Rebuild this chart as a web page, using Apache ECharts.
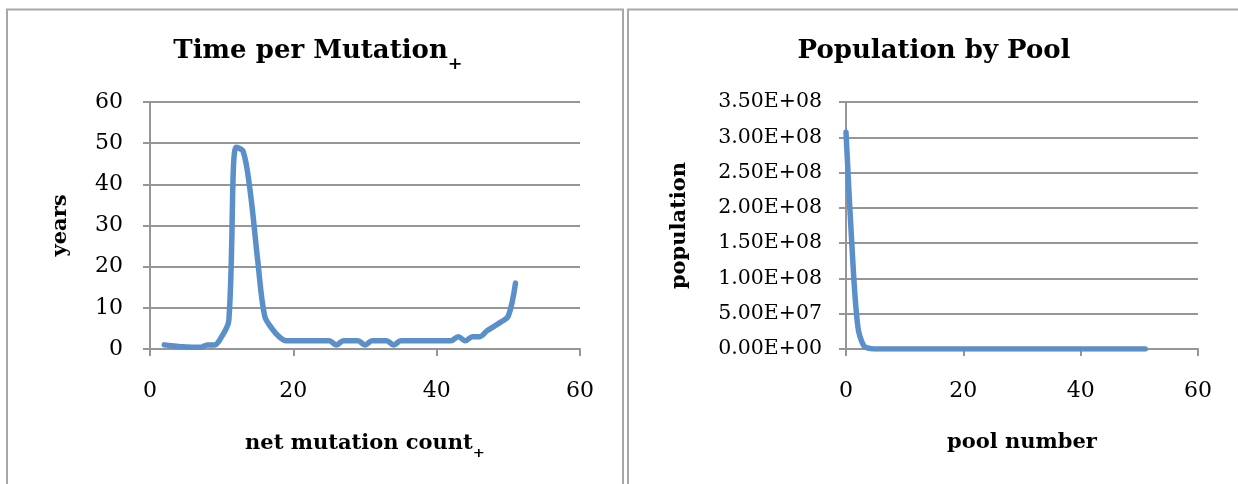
<!DOCTYPE html>
<html>
<head>
<meta charset="utf-8">
<title>Time per Mutation / Population by Pool</title>
<script src="https://cdn.jsdelivr.net/npm/echarts@6/dist/echarts.min.js"></script>
<style>
  html, body { margin: 0; padding: 0; background: #ffffff; }
  #chart { width: 1238px; height: 484px; }
</style>
</head>
<body>
<div id="chart"></div>
<script>
// Left panel: years per mutation against net mutation count
const mutationCounts = [2, 3, 4, 5, 6, 7, 8, 9, 10, 11, 12, 13, 14, 15, 16, 17, 18, 19, 20, 21,
  22, 23, 24, 25, 26, 27, 28, 29, 30, 31, 32, 33, 34, 35, 36, 37, 38, 39, 40, 41,
  42, 43, 44, 45, 46, 47, 48, 49, 50, 51];
const yearsPerMutation = [1, 0.8, 0.6, 0.5, 0.4, 0.4, 1, 1, 3, 7, 49, 48, 38, 22, 8, 5, 3, 2, 2, 2,
  2, 2, 2, 2, 1, 2, 2, 2, 1, 2, 2, 2, 1, 2, 2, 2, 2, 2, 2, 2,
  2, 3, 2, 3, 3, 4.4, 5.5, 6.6, 8, 16];

// Right panel: population in each pool
const poolNumbers = [0, 1, 2, 3, 4, 5, 6, 7, 8, 9, 10, 11, 12, 13, 14, 15, 16, 17, 18, 19,
  20, 21, 22, 23, 24, 25, 26, 27, 28, 29, 30, 31, 32, 33, 34, 35, 36, 37, 38, 39,
  40, 41, 42, 43, 44, 45, 46, 47, 48, 49, 50, 51];
const populations = [3.07e8, 1.48e8, 3.3e7, 5e6, 8e5, 1e5, 0, 0, 0, 0, 0, 0, 0, 0, 0, 0, 0, 0, 0, 0,
  0, 0, 0, 0, 0, 0, 0, 0, 0, 0, 0, 0, 0, 0, 0, 0, 0, 0, 0, 0,
  0, 0, 0, 0, 0, 0, 0, 0, 0, 0, 0, 0];

// Axis ticks
const leftXTicks = [0, 20, 40, 60];
const leftYTicks = [0, 10, 20, 30, 40, 50, 60];
const rightXTicks = [0, 20, 40, 60];
const rightYTicks = [0, 5e7, 1e8, 1.5e8, 2e8, 2.5e8, 3e8, 3.5e8];

// Texts; the trailing plus is set as a lowered subscript
const titles = ['{m|Time per Mutation}{s|\u208A}', 'Population by Pool'];
const axisNames = {
  leftX: '{m|net mutation count}{s|\u208A}',
  leftY: 'years',
  rightX: 'pool number',
  rightY: 'population'
};

const SERIF = '"DejaVu Serif", "Liberation Serif", serif';
const GRID_GRAY = '#969696';
const LINE_BLUE = '#5b8fca';

function sciLabel(v) {
  const s = v.toExponential(2).toUpperCase();
  return s.replace(/E([+-])(\d)$/, 'E$10$2');
}

function tickLabel(size, margin, formatter) {
  const o = { color: '#000', fontFamily: SERIF, fontSize: size, margin: margin };
  if (formatter) o.formatter = formatter;
  return o;
}

const nameStyle = { color: '#000', fontFamily: SERIF, fontSize: 21, fontWeight: 'bold' };

function valueAxis(ticks, extra) {
  return Object.assign({
    type: 'value',
    min: ticks[0],
    max: ticks[ticks.length - 1],
    interval: ticks[1] - ticks[0],
    axisLine: { show: true, lineStyle: { color: GRID_GRAY, width: 2 } },
    axisTick: { show: true, length: 7, lineStyle: { color: GRID_GRAY, width: 2 } },
    splitLine: { show: false },
    nameTextStyle: nameStyle,
    nameLocation: 'middle'
  }, extra);
}

const chart = echarts.init(document.getElementById('chart'), null, { renderer: 'canvas' });

const option = {
  backgroundColor: '#ffffff',
  animation: false,
  grid: [
    { left: 150, top: 102, width: 430, height: 247 },
    { left: 846, top: 102, width: 352, height: 247 }
  ],
  xAxis: [
    valueAxis(leftXTicks, {
      gridIndex: 0,
      name: axisNames.leftX,
      nameGap: 75,
      nameTextStyle: Object.assign({}, nameStyle, {
        rich: {
          m: { color: '#000', fontFamily: SERIF, fontSize: 21, fontWeight: 'bold' },
          s: { color: '#000', fontFamily: SERIF, fontSize: 23, fontWeight: 'bold', padding: [16, 0, 0, 0] }
        }
      }),
      axisLabel: tickLabel(22, 31)
    }),
    valueAxis(rightXTicks, {
      gridIndex: 1,
      name: axisNames.rightX,
      nameGap: 83,
      axisLabel: tickLabel(22, 31)
    })
  ],
  yAxis: [
    valueAxis(leftYTicks, {
      gridIndex: 0,
      name: axisNames.leftY,
      nameGap: 79,
      splitLine: { show: true, lineStyle: { color: GRID_GRAY, width: 2 } },
      axisLabel: tickLabel(22, 27)
    }),
    valueAxis(rightYTicks, {
      gridIndex: 1,
      name: axisNames.rightY,
      nameGap: 156,
      splitLine: { show: true, lineStyle: { color: GRID_GRAY, width: 2 } },
      axisLabel: tickLabel(20.5, 24, sciLabel)
    })
  ],
  series: [
    {
      type: 'line',
      xAxisIndex: 0,
      yAxisIndex: 0,
      data: mutationCounts.map((x, i) => [x, yearsPerMutation[i]]),
      smooth: 0.35,
      showSymbol: false,
      lineStyle: { color: LINE_BLUE, width: 5.5, cap: 'round', join: 'round' },
      itemStyle: { color: LINE_BLUE }
    },
    {
      type: 'line',
      xAxisIndex: 1,
      yAxisIndex: 1,
      data: poolNumbers.map((x, i) => [x, populations[i]]),
      smooth: 0.35,
      showSymbol: false,
      lineStyle: { color: LINE_BLUE, width: 5.5, cap: 'round', join: 'round' },
      itemStyle: { color: LINE_BLUE }
    }
  ],
  graphic: [
    // panel frames
    {
      type: 'rect', silent: true, z: -1,
      shape: { x: 7, y: 9.5, width: 616, height: 500 },
      style: { fill: null, stroke: '#a8a8a8', lineWidth: 2 }
    },
    {
      type: 'rect', silent: true, z: -1,
      shape: { x: 628, y: 9.5, width: 640, height: 500 },
      style: { fill: null, stroke: '#a8a8a8', lineWidth: 2 }
    },
    // chart titles
    {
      type: 'text', silent: true,
      x: 318, y: 51,
      style: {
        text: titles[0], fill: '#000',
        font: 'bold 26px ' + SERIF,
        textAlign: 'center', textVerticalAlign: 'middle',
        rich: {
          m: { fontFamily: SERIF, fontSize: 26, fontWeight: 'bold', fill: '#000' },
          s: { fontFamily: SERIF, fontSize: 28, fontWeight: 'bold', fill: '#000', padding: [22, 0, 0, 0] }
        }
      }
    },
    {
      type: 'text', silent: true,
      x: 934, y: 51,
      style: {
        text: titles[1], fill: '#000',
        font: 'bold 26px ' + SERIF,
        textAlign: 'center', textVerticalAlign: 'middle'
      }
    }
  ]
};

chart.setOption(option);
</script>
</body>
</html>
